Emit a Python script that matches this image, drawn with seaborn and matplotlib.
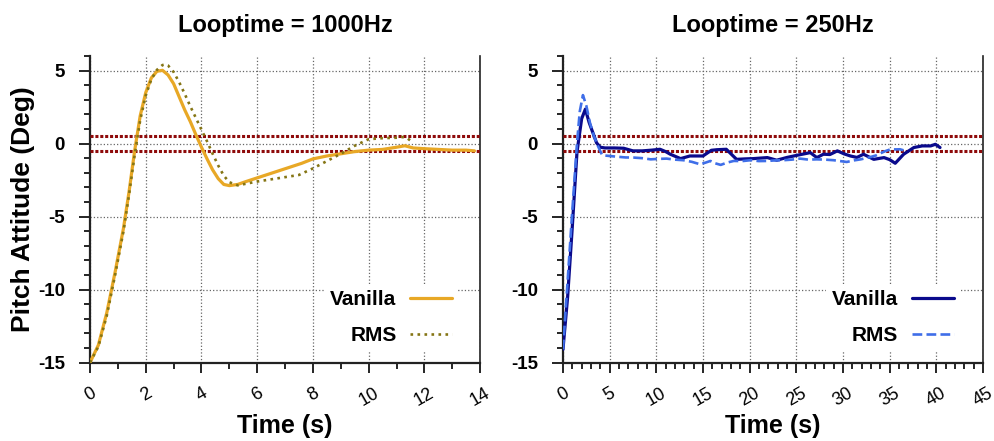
import numpy as np
import pandas as pd
import seaborn as sns
import matplotlib.pyplot as plt
from matplotlib.ticker import MultipleLocator

sns.set_style("white")
plt.rcParams['font.family'] = ['Liberation Sans', 'DejaVu Sans']
plt.rcParams['axes.unicode_minus'] = False
plt.rcParams['text.color'] = 'black'
plt.rcParams['axes.labelcolor'] = 'black'
plt.rcParams['xtick.color'] = 'black'
plt.rcParams['ytick.color'] = 'black'

# Looptime = 1000Hz
t_van_1000 = [0, 0.3, 0.6, 0.9, 1.2, 1.4, 1.6, 1.8, 2.0, 2.2, 2.4, 2.6, 2.8, 3.0, 3.2, 3.4, 3.6, 3.8,
              4.0, 4.2, 4.4, 4.6, 4.8, 5.0, 5.3, 5.6, 6.0, 6.4, 6.8, 7.2, 7.6, 8.0, 8.5, 9.0, 9.5,
              10.0, 10.5, 11.0, 11.3, 11.6, 12.0, 12.5, 13.0, 13.5, 13.8]
y_van_1000 = [-15, -13.8, -11.6, -8.8, -5.8, -3.3, -0.5, 1.9, 3.5, 4.5, 4.95, 5.02, 4.7, 4.1, 3.2,
              2.3, 1.5, 0.6, -0.25, -1.05, -1.8, -2.4, -2.8, -2.88, -2.8, -2.6, -2.35, -2.1, -1.85,
              -1.6, -1.35, -1.05, -0.85, -0.7, -0.55, -0.45, -0.4, -0.25, -0.15, -0.3, -0.35, -0.4,
              -0.45, -0.45, -0.5]
t_rms_1000 = [0, 0.3, 0.6, 0.9, 1.2, 1.4, 1.6, 1.8, 2.0, 2.2, 2.4, 2.6, 2.7, 2.8, 3.0, 3.2, 3.4, 3.6,
              3.8, 4.0, 4.2, 4.4, 4.6, 4.8, 5.0, 5.3, 5.6, 6.0, 6.5, 7.0, 7.5, 8.0, 8.5, 9.0, 9.5,
              10.0, 10.5, 11.0, 11.2, 11.4, 11.6]
y_rms_1000 = [-15, -13.9, -11.8, -9.0, -6.0, -3.5, -0.8, 1.6, 3.3, 4.4, 5.05, 5.38, 5.42, 5.35, 4.9,
              4.2, 3.4, 2.55, 1.75, 0.95, 0.15, -0.7, -1.5, -2.2, -2.65, -2.86, -2.75, -2.6, -2.45,
              -2.3, -2.15, -1.7, -1.2, -0.7, -0.15, 0.3, 0.37, 0.4, 0.45, 0.35, 0.05]

# Looptime = 250Hz
t_van_250 = [0, 0.5, 1.0, 1.5, 2.0, 2.4, 2.8, 3.2, 3.6, 4.0, 4.5, 5.5, 6.5, 7.5, 8.5, 9.5, 10.4,
             11.0, 11.5, 12.6, 13.6, 15.0, 15.9, 16.5, 17.5, 18.6, 19.5, 20.4, 21.9, 22.9, 24.0,
             25.1, 26.5, 27.2, 27.9, 28.6, 29.4, 30.1, 30.8, 31.5, 32.2, 33.3, 34.4, 35.0, 35.6,
             36.5, 37.6, 38.5, 39.4, 39.9, 40.4]
y_van_250 = [-14.1, -10.5, -5.7, -0.6, 1.7, 2.36, 1.45, 0.75, 0.05, -0.25, -0.3, -0.3, -0.32, -0.5,
             -0.5, -0.45, -0.39, -0.55, -0.73, -1.03, -0.85, -0.85, -0.46, -0.42, -0.39, -1.08,
             -1.05, -1.03, -0.96, -1.14, -0.95, -0.8, -0.62, -0.96, -0.73, -0.75, -0.5, -0.7,
             -0.85, -0.95, -0.73, -1.08, -0.96, -1.1, -1.35, -0.73, -0.27, -0.16, -0.16, -0.05, -0.27]
t_rms_250 = [0, 0.5, 1.0, 1.5, 1.8, 2.14, 2.5, 2.9, 3.3, 3.7, 4.2, 5.0, 5.8, 6.7, 7.6, 8.5, 9.4,
             10.2, 11.1, 12.0, 12.9, 13.8, 14.7, 15.3, 15.8, 16.3, 16.9, 17.6, 18.3, 19.2, 20.1,
             21.0, 21.9, 22.8, 23.6, 24.5, 25.4, 26.3, 27.2, 28.1, 29.0, 29.7, 30.4, 31.2, 31.9,
             32.8, 33.6, 34.4, 35.1, 35.6, 36.1, 36.7]
y_rms_250 = [-14.1, -9.4, -4.6, 0.0, 2.2, 3.32, 2.6, 1.4, 0.55, -0.1, -0.8, -0.85, -0.9, -0.95,
             -0.96, -1.0, -1.08, -1.05, -1.03, -1.1, -1.14, -1.25, -1.42, -1.3, -1.19, -1.35,
             -1.46, -1.3, -1.19, -1.2, -1.14, -1.2, -1.19, -1.15, -1.14, -1.1, -1.03, -1.1, -1.08,
             -1.1, -1.14, -1.2, -1.26, -1.15, -1.08, -0.95, -0.8, -0.55, -0.39, -0.4, -0.39, -0.5]

band = [0.5, -0.5]

narrow = ['Liberation Sans Narrow', 'Liberation Sans', 'DejaVu Sans']

fig = plt.figure(figsize=(9.95, 4.41), dpi=100)
ax1 = fig.add_axes([0.0905, 0.178, 0.392, 0.695])
ax2 = fig.add_axes([0.5658, 0.178, 0.4221, 0.695])

panels = [
    (ax1, "Looptime = 1000Hz", t_van_1000, y_van_1000, t_rms_1000, y_rms_1000,
     '#E8A826', '#857514', ':', 14, 2, 1),
    (ax2, "Looptime = 250Hz", t_van_250, y_van_250, t_rms_250, y_rms_250,
     '#0A0A8C', '#3F6EE8', '--', 45, 5, 1),
]

for ax, title, tv, yv, tr, yr, cv, cr, lsr, xmax, xmaj, xmin in panels:
    for b in band:
        ax.axhline(b, color='#8E0A0A', lw=2.2, ls=(0, (1, 0.6)), zorder=3)
    sns.lineplot(x=tv, y=yv, ax=ax, color=cv, lw=2.3, label="Vanilla",
                 estimator=None, sort=False, zorder=4)
    sns.lineplot(x=tr, y=yr, ax=ax, color=cr, lw=1.9, ls=lsr, label="RMS",
                 estimator=None, sort=False, zorder=4)
    ax.set_xlim(0, xmax)
    ax.set_ylim(-15, 6)
    ax.xaxis.set_major_locator(MultipleLocator(xmaj))
    ax.xaxis.set_minor_locator(MultipleLocator(xmin))
    ax.yaxis.set_major_locator(MultipleLocator(5))
    ax.yaxis.set_minor_locator(MultipleLocator(1))
    ax.grid(True, which='major', color='#666666', ls=':', lw=0.9)
    ax.set_axisbelow(True)
    ax.spines['top'].set_visible(False)
    ax.spines['left'].set_linewidth(1.6)
    ax.spines['bottom'].set_linewidth(1.6)
    ax.spines['right'].set_linewidth(1.2)
    for s in ['left', 'bottom', 'right']:
        ax.spines[s].set_color('#222222')
    ax.tick_params(axis='y', which='major', direction='out', length=8, width=1.2,
                   pad=10, left=True, labelsize=13.5)
    ax.tick_params(axis='y', which='minor', direction='out', length=4.5, width=1.2, left=True)
    ax.tick_params(axis='x', which='major', direction='out', length=7, width=1.2,
                   pad=9, bottom=True)
    ax.tick_params(axis='x', which='minor', direction='out', length=4, width=1.2, bottom=True)
    for lab in ax.get_yticklabels():
        lab.set_fontweight('bold')
    ax.set_xticks(ax.get_xticks())
    ax.set_xticklabels([f"{v:g}" for v in ax.get_xticks()], rotation=30,
                       ha='center', fontsize=13, family=narrow)
    ax.set_xlim(0, xmax)
    ax.set_xlabel("Time (s)", fontsize=18, fontweight='bold', family=narrow, labelpad=3)
    ax.set_title(title, fontsize=17, fontweight='bold', pad=17)
    leg = ax.legend(loc='lower right', bbox_to_anchor=(0.97, 0.003), frameon=True,
                    markerfirst=False, handlelength=2.0,
                    prop={'weight': 'bold', 'size': 15}, labelspacing=0.8,
                    handletextpad=0.65, borderpad=0.3)
    leg.get_frame().set_facecolor('white')
    leg.get_frame().set_edgecolor('none')
    leg.get_frame().set_alpha(1)

ax1.set_ylabel("Pitch Attitude (Deg)", fontsize=19, fontweight='bold', labelpad=2)
ax2.set_ylabel("")

plt.savefig("out.png", dpi=100)
